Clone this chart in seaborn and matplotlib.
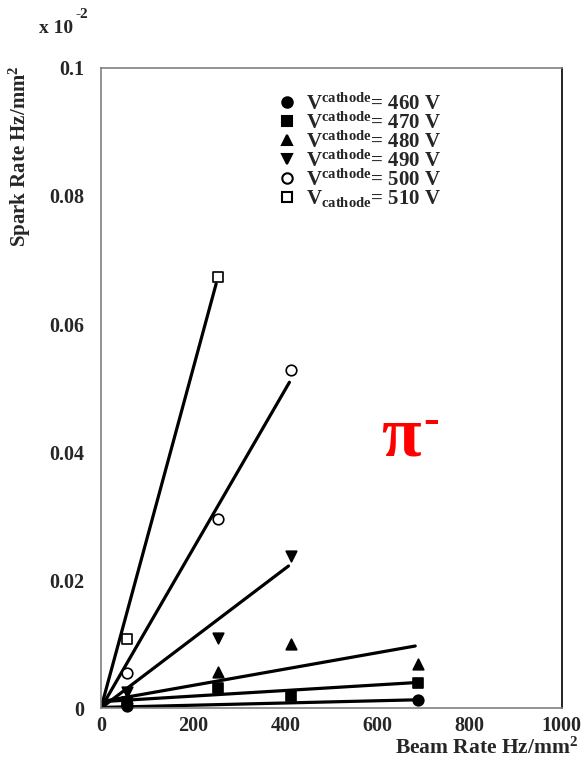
import matplotlib
matplotlib.use("Agg")
import matplotlib.pyplot as plt
import seaborn as sns
from matplotlib.lines import Line2D

# spark rate vs beam rate, pi- beam, one series per cathode voltage
voltages = [460, 470, 480, 490, 500, 510]

x_460 = [57, 688]
y_460 = [0.0004, 0.0012]
x_470 = [57, 254, 413, 688]
y_470 = [0.0009, 0.0031, 0.0019, 0.0039]
x_480 = [57, 254, 413, 688]
y_480 = [0.0016, 0.0056, 0.0100, 0.0069]
x_490 = [57, 254, 413]
y_490 = [0.0025, 0.0110, 0.0238]
x_500 = [57, 254, 413]
y_500 = [0.0055, 0.0296, 0.0528]
x_510 = [57, 254]
y_510 = [0.0108, 0.0674]

# fitted lines (start / end points)
fit_x_460 = [0, 688]
fit_y_460 = [0.0001, 0.0013]
fit_x_470 = [0, 686]
fit_y_470 = [0.0010, 0.0040]
fit_x_480 = [0, 682]
fit_y_480 = [0.0010, 0.0097]
fit_x_490 = [0, 407]
fit_y_490 = [0.0, 0.0222]
fit_x_500 = [0, 409]
fit_y_500 = [0.0, 0.0509]
fit_x_510 = [0, 250]
fit_y_510 = [0.0, 0.0663]

xticks = [0, 200, 400, 600, 800, 1000]
yticks = [0, 0.02, 0.04, 0.06, 0.08, 0.1]
ytick_labels = ["0", "0.02", "0.04", "0.06", "0.08", "0.1"]

sns.set_style("white")
plt.rcParams["font.family"] = ["Liberation Serif", "DejaVu Serif"]
plt.rcParams["font.weight"] = "bold"
plt.rcParams["mathtext.fontset"] = "custom"
plt.rcParams["mathtext.rm"] = "Liberation Serif:bold"
plt.rcParams["mathtext.bf"] = "Liberation Serif:bold"
plt.rcParams["mathtext.it"] = "Liberation Serif:bold"

fig = plt.figure(figsize=(5.87, 7.68), dpi=100)
ax = fig.add_axes([0.172, 0.078, 0.785, 0.8335])

series = [
    (x_460, y_460, fit_x_460, fit_y_460, "o", "black"),
    (x_470, y_470, fit_x_470, fit_y_470, "s", "black"),
    (x_480, y_480, fit_x_480, fit_y_480, "^", "black"),
    (x_490, y_490, fit_x_490, fit_y_490, "v", "black"),
    (x_500, y_500, fit_x_500, fit_y_500, "o", "white"),
    (x_510, y_510, fit_x_510, fit_y_510, "s", "white"),
]

for xs, ys, fx, fy, m, fc in series:
    sns.lineplot(x=fx, y=fy, color="black", lw=2.3, ax=ax, zorder=2)
    sns.scatterplot(x=xs, y=ys, marker=m, s=58, color=fc, edgecolor="black",
                    linewidth=1.2, ax=ax, zorder=3, clip_on=False)

ax.set_xlim(0, 1000)
ax.set_ylim(0, 0.1)
ax.set_xticks(xticks)
ax.set_xticklabels([str(t) for t in xticks])
ax.set_yticks(yticks)
ax.set_yticklabels(ytick_labels)
ax.tick_params(direction="in", length=7, width=1, color="#808080",
               labelsize=14.5, pad=6)
ax.tick_params(axis="y", pad=12)
for lab in ax.get_xticklabels() + ax.get_yticklabels():
    lab.set_fontweight("bold")
for side in ["left", "top", "bottom"]:
    ax.spines[side].set_color("#808080")
    ax.spines[side].set_linewidth(1.2)
ax.spines["right"].set_color("black")
ax.spines["right"].set_linewidth(1.2)

# legend
handles = []
labels = []
for v, (xs, ys, fx, fy, m, fc) in zip(voltages, series):
    handles.append(Line2D([], [], ls="none", marker=m, markersize=7.5,
                          markerfacecolor=fc, markeredgecolor="black",
                          markeredgewidth=1.5))
    sub = "_" if v == 510 else "^"
    labels.append(r"V$" + sub + r"{\mathbf{cathode}}$= " + str(v) + " V")
ax.legend(handles, labels, loc="upper left", bbox_to_anchor=(0.355, 0.98),
          frameon=False, fontsize=15, labelspacing=-0.12,
          handletextpad=0.4, handlelength=1.0, borderaxespad=0.2)

ax.text(0.608, 0.395, "π", color="red", fontsize=52, fontweight="bold",
        transform=ax.transAxes, ha="left", va="baseline")
ax.text(0.7, 0.43, "-", color="red", fontsize=34, fontweight="bold",
        transform=ax.transAxes, ha="left", va="baseline")

fig.text(0.985, 0.018, r"Beam Rate Hz/mm$^{2}$", ha="right", va="baseline",
         fontsize=15.5, fontweight="bold")
fig.text(0.012, 0.915, r"Spark Rate Hz/mm$^{2}$", ha="left", va="top",
         rotation=90, fontsize=15, fontweight="bold")
fig.text(0.066, 0.957, "x 10", ha="left", va="baseline", fontsize=14,
         fontweight="bold")
fig.text(0.128, 0.976, "-2", ha="left", va="baseline", fontsize=11,
         fontweight="bold")

fig.savefig("out.png", dpi=100)
